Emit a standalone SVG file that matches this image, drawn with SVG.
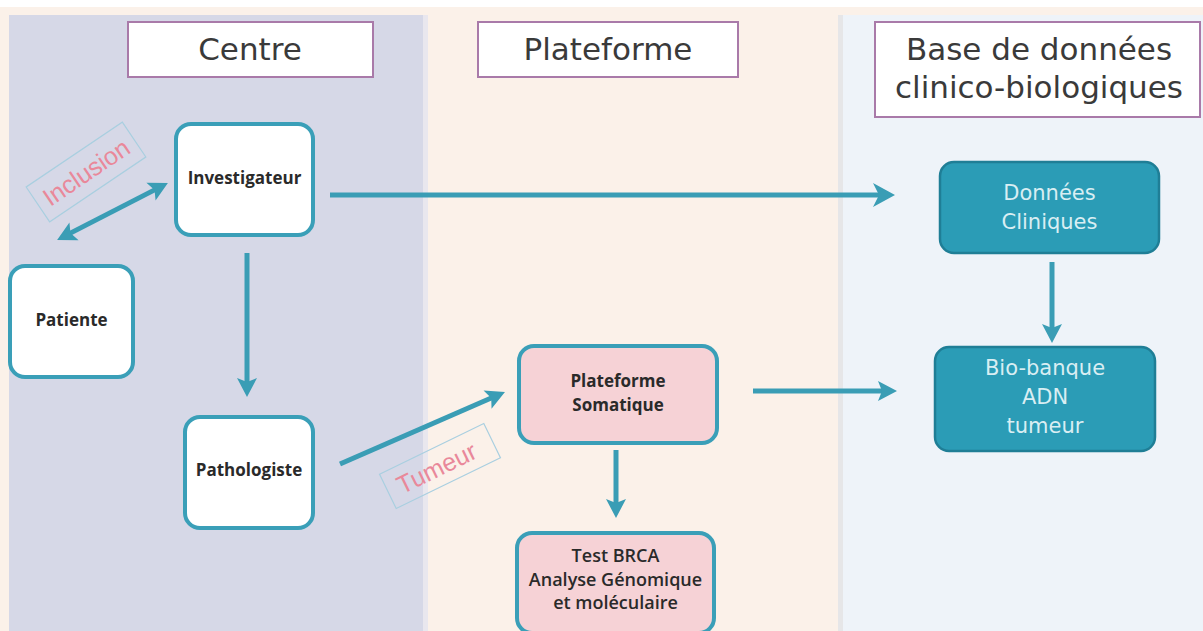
<svg xmlns="http://www.w3.org/2000/svg" width="1203" height="631" viewBox="0 0 1203 631">
<defs>
<style>
.title{fill:#fff;stroke:#a97aa9;stroke-width:2}
.ttl{font-family:"DejaVu Sans",sans-serif;font-size:31px;fill:#3a3a3a;text-anchor:middle}
.wnode{fill:#fff;stroke:#3a9fb8;stroke-width:4}
.pnode{fill:#f6d2d6;stroke:#3a9fb8;stroke-width:4}
.bnode{fill:#2b9cb6;stroke:#1f7e96;stroke-width:2.5}
.bl{font-family:"Open Sans",sans-serif;font-weight:700;font-size:17px;fill:#2a2a2a;text-anchor:middle}
.rl{font-family:"Open Sans",sans-serif;font-weight:600;font-size:18px;fill:#2a2a2a;text-anchor:middle}
.wl{font-family:"DejaVu Sans",sans-serif;font-size:21px;fill:#d9eef3;text-anchor:middle}
.lbl{font-family:"Liberation Sans",sans-serif;font-size:25px;fill:#e9889a;text-anchor:middle}
.lbox{fill:none;stroke:#a9cfe0;stroke-width:1.2}
.arr{fill:none;stroke:#3a9db5;stroke-width:5;marker-end:url(#ah)}
</style>
<marker id="ah" viewBox="-1 -11 22 22" markerWidth="22" markerHeight="22" refX="9" refY="0" orient="auto-start-reverse" markerUnits="userSpaceOnUse">
<path d="M0,-10 L19,0 L0,10 L4,0 Z" fill="#3a9db5"/>
</marker>
<marker id="ahb" viewBox="-1 -13 26 26" markerWidth="26" markerHeight="26" refX="10" refY="0" orient="auto" markerUnits="userSpaceOnUse">
<path d="M0,-12 L22,0 L0,12 L6,0 Z" fill="#3a9db5"/>
</marker>
</defs>
<g id="background">
<rect x="0" y="0" width="1203" height="631" fill="#fbf1e9"/>
<rect x="0" y="0" width="1203" height="7" fill="#ffffff"/>
<rect x="9" y="15" width="414" height="616" fill="#d6d8e7"/>
<rect x="423" y="15" width="5" height="616" fill="#e9e7ee"/>
<rect x="838" y="15" width="5" height="616" fill="#e6e6e8"/>
<rect x="843" y="15" width="360" height="616" fill="#eef3f9"/>
</g>
<g id="title-centre">
<rect class="title" x="128" y="22" width="245" height="55"/>
<text class="ttl" x="250" y="60">Centre</text>
</g>
<g id="title-plateforme">
<rect class="title" x="478" y="22" width="260" height="55"/>
<text class="ttl" x="608" y="60">Plateforme</text>
</g>
<g id="title-base">
<rect class="title" x="875" y="22" width="325" height="95"/>
<text class="ttl" x="1039" y="60">Base de données</text>
<text class="ttl" x="1039" y="98">clinico-biologiques</text>
</g>
<g id="connectors">
<path class="arr" d="M66,235.4 L159,187.6" marker-start="url(#ah)"/>
<path class="arr" d="M330,195 L883,195" style="marker-end:url(#ahb)"/>
<path class="arr" d="M247,253 L247,387"/>
<path class="arr" d="M340,464 L495.8,396"/>
<path class="arr" d="M753,391 L887,391"/>
<path class="arr" d="M1052,262 L1052,333"/>
<path class="arr" d="M616,450 L616,508"/>
</g>
<g id="label-inclusion" transform="translate(86,172) rotate(-34)">
<rect class="lbox" x="-58" y="-21" width="116" height="42"/>
<text class="lbl" x="0" y="9">Inclusion</text>
</g>
<g id="label-tumeur" transform="translate(440,466) rotate(-26)">
<rect class="lbox" x="-58" y="-19" width="116" height="38"/>
<text class="lbl" x="-4" y="9">Tumeur</text>
</g>
<g id="node-investigateur">
<rect class="wnode" x="176" y="124" width="137" height="111" rx="15"/>
<text class="bl" x="244.5" y="184">Investigateur</text>
</g>
<g id="node-patiente">
<rect class="wnode" x="10" y="266" width="123" height="111" rx="15"/>
<text class="bl" x="71.5" y="326">Patiente</text>
</g>
<g id="node-pathologiste">
<rect class="wnode" x="185" y="417" width="128" height="111" rx="15"/>
<text class="bl" x="249" y="476">Pathologiste</text>
</g>
<g id="node-plateforme-somatique">
<rect class="pnode" x="519" y="346" width="198" height="97" rx="15"/>
<text class="bl" x="618" y="387">Plateforme</text>
<text class="bl" x="618" y="411">Somatique</text>
</g>
<g id="node-test-brca">
<rect class="pnode" x="517" y="533" width="197" height="100" rx="15"/>
<text class="rl" x="615.5" y="562">Test BRCA</text>
<text class="rl" x="615.5" y="586">Analyse Génomique</text>
<text class="rl" x="615.5" y="609">et moléculaire</text>
</g>
<g id="node-donnees-cliniques">
<rect class="bnode" x="940" y="162" width="219" height="91" rx="14"/>
<text class="wl" x="1049.5" y="200">Données</text>
<text class="wl" x="1049.5" y="229">Cliniques</text>
</g>
<g id="node-bio-banque">
<rect class="bnode" x="935" y="347" width="220" height="104" rx="14"/>
<text class="wl" x="1045" y="375">Bio-banque</text>
<text class="wl" x="1045" y="404">ADN</text>
<text class="wl" x="1045" y="433">tumeur</text>
</g>
</svg>
